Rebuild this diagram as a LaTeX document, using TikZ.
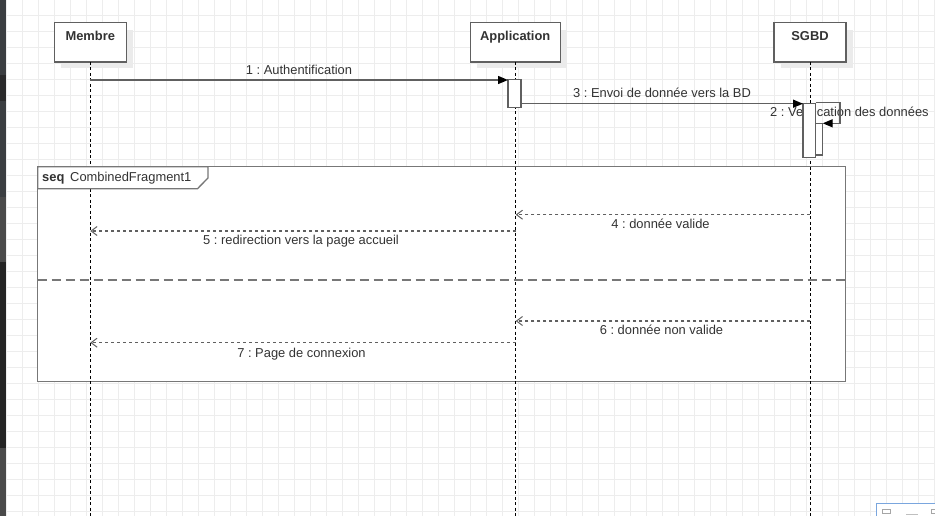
\documentclass[tikz,border=0pt]{standalone}
\usepackage{fontspec}
\setmainfont{Liberation Sans}
\frenchspacing
\usetikzlibrary{arrows.meta}
\definecolor{txt}{HTML}{333333}
\definecolor{ln}{HTML}{606060}
\definecolor{frm}{HTML}{777777}
\definecolor{gridc}{HTML}{EDEDED}
\definecolor{shad}{HTML}{EBEBEB}
\definecolor{stripA}{HTML}{3B3E41}
\definecolor{stripB}{HTML}{2A2A2B}
\definecolor{stripC}{HTML}{4A4A4A}
\definecolor{stripD}{HTML}{242424}
\definecolor{thumb}{HTML}{7AA6DE}
\begin{document}
\begin{tikzpicture}[x=1pt,y=-1pt,
  lbl/.style={font=\fontsize{12.9}{14}\selectfont, text=txt, inner sep=0pt, anchor=base},
  head/.style={font=\bfseries\fontsize{12.9}{14}\selectfont, text=txt, inner sep=0pt, anchor=base},
  objbox/.style={draw=ln, line width=1.4pt, fill=white, minimum width=#1, minimum height=39.3pt, inner sep=0pt},
  actbox/.style={draw=ln, line width=1.4pt, fill=white, inner sep=0pt},
  lifeline/.style={black, line width=0.9pt, dash pattern=on 3pt off 2.5pt},
  msg/.style={ln, line width=1.4pt, -{Triangle[length=10pt,width=8pt,black]}},
  retmsg/.style={ln, line width=1.4pt, dash pattern=on 3pt off 3pt, -{Straight Barb[length=6pt,width=9pt,line width=1pt,ln]}},
  frame/.style={frm, line width=1.3pt}
]
\useasboundingbox (0,0) rectangle (935,516);
\fill[white] (0,0) rectangle (935,516);
% grid
\foreach \i in {0,...,58} \draw[gridc, line width=0.8pt] ({6.7+16*\i},0) -- ({6.7+16*\i},516);
\foreach \j in {0,...,31} \draw[gridc, line width=0.8pt] (0,{15.3+16*\j}) -- (935,{15.3+16*\j});
% left editor strip
\fill[stripA] (0,0) rectangle (6,75);
\fill[stripB] (0,75) rectangle (6,101);
\fill[stripA] (0,101) rectangle (6,197);
\fill[stripC] (0,197) rectangle (6,262);
\fill[stripD] (0,262) rectangle (6,448);
\fill[stripC] (0,448) rectangle (6,516);
% bottom-right thumbnail
\draw[thumb, fill=white, line width=1pt] (876.5,503.5) rectangle (937,518);
\draw[gray!70, line width=0.6pt] (882.5,509.5) rectangle (890.5,513);
\draw[gray!70, line width=0.6pt] (931.5,509.5) rectangle (937,513);
\draw[gray!50, line width=0.6pt] (906,514.5) -- (918,514.5);

% shadows
\fill[shad] (61.3,29.7) rectangle (133.3,68.5);
\fill[shad] (477.2,29.7) rectangle (567.2,68.5);
\fill[shad] (781,29.7) rectangle (853,68.5);

% objects
\node[objbox=72pt] (mem) at (90.3,42.35) {};
\node[objbox=90pt] (app) at (515.2,42.35) {};
\node[objbox=72pt] (db) at (810,42.35) {};
\node[head] (memT) at (90.3,40.5) {Membre};
\node[head] (appT) at (515.2,40.5) {Application};
\node[head] (dbT) at (810,40.5) {SGBD};

% lifelines
\coordinate (memEnd) at (90.3,516);
\coordinate (appEnd) at (515.7,516);
\coordinate (dbEnd) at (810.3,516);
\draw[lifeline] (90.3,62) -- (memEnd);
\draw[lifeline] (515.7,62) -- (appEnd);
\draw[lifeline] (810.3,62) -- (dbEnd);

% combined fragment
\coordinate (fTL) at (37.7,166.7);
\coordinate (fBR) at (845.3,381.7);
\draw[frame, fill=white] (fTL) rectangle (fBR);
\draw[lifeline] (90.3,166.7) -- (90.3,381.7);
\draw[lifeline] (515.7,166.7) -- (515.7,381.7);
\draw[lifeline] (810.3,166.7) -- (810.3,381.7);
\draw[frame, fill=white] (fTL) -- (208,166.7) -- (208,178) -- (197.5,188.7) -- (37.7,188.7) -- cycle;
\node[head, anchor=base west] (seqT) at (42,182) {seq};
\node[lbl, anchor=base west] (cfT) at (70,182) {CombinedFragment1};
\coordinate (sepL) at (37.7,280);
\coordinate (sepR) at (845.3,280);
\draw[frm, line width=1.3pt, dash pattern=on 9pt off 5pt] (sepL) -- (sepR);

% self-message label (partly hidden by activation)
\node[lbl, anchor=base west] (l2) at (770,116.3) {2 : Verification des données};

% activations
\node[actbox, minimum width=13pt, minimum height=28.4pt] (actA) at (514.5,93.5) {};
\node[actbox, minimum width=7pt, minimum height=31.7pt] (actS2) at (819.2,139.15) {};
\node[actbox, minimum width=12.7pt, minimum height=54.4pt] (actS1) at (809.35,130.5) {};

% message 1
\coordinate (m1s) at (90.3,80);
\coordinate (m1e) at (508,80);
\draw[msg] (m1s) -- (m1e);
\node[lbl] (l1) at (299,74.5) {1 : Authentification};

% message 3
\coordinate (m3s) at (521,103.7);
\coordinate (m3e) at (803,103.7);
\draw[msg] (m3s) -- (m3e);
\node[lbl] (l3) at (662,97.5) {3 : Envoi de donnée vers la BD};

% message 2 (self)
\coordinate (m2s) at (815.7,102.5);
\coordinate (m2a) at (840,102.5);
\coordinate (m2b) at (840,123.3);
\coordinate (m2e) at (822.7,123.3);
\draw[msg] (m2s) -- (m2a) -- (m2b) -- (m2e);

% returns
\coordinate (m4s) at (810.3,214.7);
\coordinate (m4e) at (515.7,214.7);
\draw[retmsg] (m4s) -- (m4e);
\node[lbl] (l4) at (660.5,228.8) {4 : donnée valide};

\coordinate (m5s) at (515.7,231);
\coordinate (m5e) at (90.3,231);
\draw[retmsg] (m5s) -- (m5e);
\node[lbl] (l5) at (301,244.5) {5 : redirection vers la page accueil};

\coordinate (m6s) at (810.3,321);
\coordinate (m6e) at (515.7,321);
\draw[retmsg] (m6s) -- (m6e);
\node[lbl] (l6) at (661.5,334.5) {6 : donnée non valide};

\coordinate (m7s) at (515.7,342.7);
\coordinate (m7e) at (90.3,342.7);
\draw[retmsg] (m7s) -- (m7e);
\node[lbl] (l7) at (301.5,357) {7 : Page de connexion};
\end{tikzpicture}
\end{document}
